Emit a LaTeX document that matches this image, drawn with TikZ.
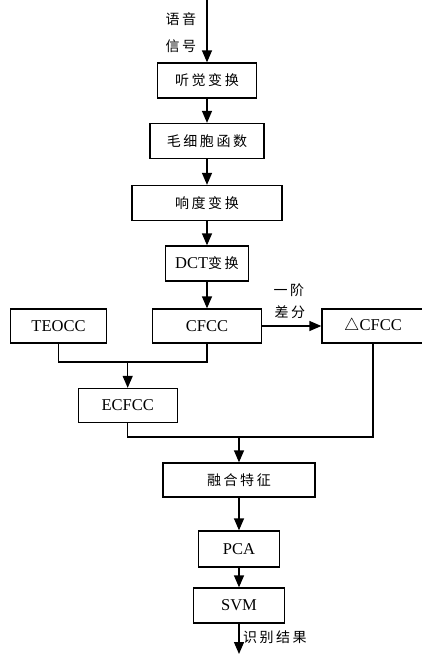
\documentclass[tikz,border=0pt]{standalone}
\usepackage{fontspec}
\setmainfont{Liberation Serif}
\newfontfamily\cjk[LetterSpace=18]{Noto Sans CJK SC}
\usetikzlibrary{arrows.meta}
\begin{document}
\begin{tikzpicture}[x=1pt,y=-1pt,
  box/.style={draw,line width=1.3pt,minimum height=35pt,inner sep=0pt,font=\fontsize{16.5}{18}\selectfont},
  cbox/.style={box,font=\fontsize{14}{16}\selectfont\cjk},
  cn/.style={inner sep=0pt,font=\fontsize{14}{16}\selectfont\cjk},
  arr/.style={line width=1.3pt,-{Triangle[length=12pt,width=10pt]}},
  ln/.style={line width=1.3pt}]
\useasboundingbox (0,0) rectangle (422,654);
% main column
\node[cbox,minimum width=99pt] (a) at (207,80.5) {听觉变换};
\node[cbox,minimum width=114pt] (b) at (207,141) {毛细胞函数};
\node[cbox,minimum width=150pt] (c) at (207,203) {响度变换};
\node[box,minimum width=83pt] (d) at (207,263.5) {DCT{\fontsize{14}{16}\selectfont\cjk 变换}};
\node[box,minimum width=109pt,minimum height=34pt] (cfcc) at (207,326) {CFCC};
\node[box,minimum width=96pt,minimum height=34pt] (teocc) at (58.5,326) {TEOCC};
\node[box,minimum width=102pt,minimum height=34pt] (dcfcc) at (373,326) {$\triangle$CFCC};
\node[box,minimum width=99pt,minimum height=34pt] (ecfcc) at (127.7,405.5) {ECFCC};
\node[cbox,minimum width=152pt,minimum height=34pt] (fuse) at (239,480) {融合特征};
\node[box,minimum width=81pt,minimum height=36pt] (pca) at (239,549) {PCA};
\node[box,minimum width=91pt] (svm) at (239,605.5) {SVM};
% labels
\node[cn] (l1) at (181,19) {语音};
\node[cn] (l2) at (181,46) {信号};
\node[cn] (l3) at (289,290) {一阶};
\node[cn] (l4) at (290,312) {差分};
\node[cn,anchor=west] (l5) at (243,637) {识别结果};
% coordinates
\coordinate (s) at (207,0);
\coordinate (e) at (239,654);
\coordinate (j1) at (127.7,362);
\coordinate (j2) at (239,437);
% connectors
\draw[arr] (s) -- (a.north);
\draw[arr] (a) -- (b);
\draw[arr] (b) -- (c);
\draw[arr] (c) -- (d);
\draw[arr] (d) -- (cfcc);
\draw[arr] (cfcc) -- (dcfcc);
\draw[ln] (teocc.south) |- (j1) -| (cfcc.south);
\draw[arr] (j1) -- (ecfcc.north);
\draw[ln] (ecfcc.south) |- (j2) -| (dcfcc.south);
\draw[arr] (j2) -- (fuse.north);
\draw[arr] (fuse) -- (pca);
\draw[arr] (pca) -- (svm);
\draw[arr] (svm) -- (e);
\end{tikzpicture}
\end{document}
